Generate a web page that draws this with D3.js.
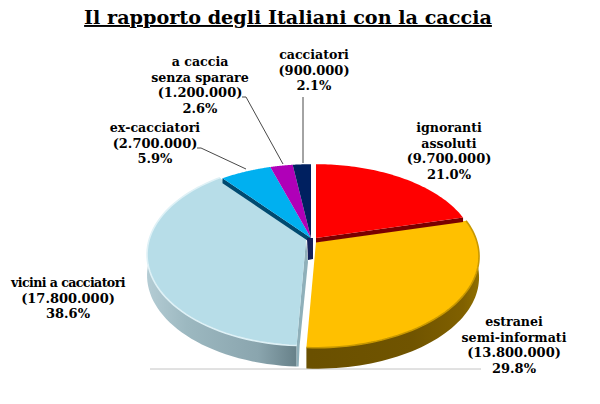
<!DOCTYPE html>
<html><head><meta charset="utf-8">
<script src="https://cdn.jsdelivr.net/npm/d3@7"></script>
<style>html,body{margin:0;background:#fff}svg{display:block}text{font-family:"DejaVu Serif",serif;font-weight:bold;fill:#000}</style>
</head><body><div id="c"></div>
<script>
const title = "Il rapporto degli Italiani con la caccia";
const categories = ["ignoranti assoluti","estranei semi-informati","vicini a cacciatori","ex-cacciatori","a caccia senza sparare","cacciatori"];
const people = ["9.700.000","13.800.000","17.800.000","2.700.000","1.200.000","900.000"];
const percents = [21.0,29.8,38.6,5.9,2.6,2.1];
const colors = ["#ff0000","#ffc000","#b7dde8","#00b0f0","#b000b8","#002060"];
const cutColors = ["#7a0000","#6f5400","#8fb0ba","#004a70","#560060","#001030"];
const rimColors = [null,"#c89800","#dff1f6",null,null,null];
const labelLines = [["ignoranti","assoluti"],["estranei","semi-informati"],["vicini a cacciatori"],["ex-cacciatori"],["a caccia","senza sparare"],["cacciatori"]];
const labelAnchors = [[449,128],[514,322],[68,283],[155,128],[200,62],[314,55]];
const apexes = [[316,238],[316,242],[306,240],[311,238],[311,238],[311,238]];
const scaleX = [0.98,1,0.975,1,1,1];
const scaleY = [0.96,1,1,0.96,0.96,0.96];
const leaders = [null,null,null,[[197,148],[201,148],[246,169]],[[242,97],[246,97],[283,164]],[[303,97],[303,163]]];

const W=600,H=404;
const svg=d3.select("#c").append("svg").attr("width",W).attr("height",H);
const defs=svg.append("defs");
const pct=d3.format(".1f");
const arcs=d3.pie().sort(null).value(d=>d)(percents);

// perspective projection of the pie's disc
const K=0.158, SX=161, SY=89, DEPTH=21;
const proj=(t,i)=>{const u=Math.sin(t),v=Math.cos(t),w=1+K*v,o=apexes[i];
  return [o[0]+scaleX[i]*SX*u/w,o[1]-scaleY[i]*SY*v/w];};
const samples=(a,b)=>d3.range(0,61).map(i=>a+(b-a)*i/60);
const line=d3.line();

function grad(id,x1,x2,stops){
  const g=defs.append("linearGradient").attr("id",id).attr("gradientUnits","userSpaceOnUse")
    .attr("x1",x1).attr("x2",x2).attr("y1",0).attr("y2",0);
  stops.forEach(s=>g.append("stop").attr("offset",s[0]).attr("stop-color",s[1]));
}
grad("sideO",310,480,[[0,"#6a5000"],[0.6,"#705400"],[0.9,"#806000"],[1,"#907000"]]);
grad("sideB",147,306,[[0,"#b4ccd4"],[0.25,"#9cb8c0"],[0.7,"#8aa5ae"],[1,"#5f7880"]]);

// baseline under the pie
svg.append("line").attr("x1",150).attr("x2",481).attr("y1",369).attr("y2",369).attr("stroke","#c4c4c4").attr("stroke-width",1);

// side walls
[1,2].forEach(i=>{
  const a=arcs[i];
  const upper=samples(a.startAngle,a.endAngle).map(t=>proj(t,i));
  const lower=upper.map(p=>[p[0],p[1]+DEPTH]).reverse();
  svg.append("path").attr("d",line(upper.concat(lower))+"Z").attr("fill",i===1?"url(#sideO)":"url(#sideB)");
});
// light slice's cut face
{const o=apexes[2],e=proj(arcs[2].startAngle,2);
 svg.append("path").attr("d",line([o,[o[0]+2,o[1]+22],[e[0]+3,e[1]],[e[0]+2,e[1]+DEPTH],[e[0],e[1]+DEPTH],e])+"Z").attr("fill","#8fb0ba");}

function face(i){
  const a=arcs[i],pts=samples(a.startAngle,a.endAngle).map(t=>proj(t,i));
  svg.append("path").attr("d",line([apexes[i]].concat(pts))+"Z").attr("fill",colors[i]);
  if(rimColors[i]) svg.append("path").attr("d",line(pts)).attr("fill","none").attr("stroke",rimColors[i]).attr("stroke-width",1.6);
}
function cut(i,k,d){
  const o=apexes[i],e=proj(arcs[i][k],i);
  svg.append("path").attr("d",line([o,e,[e[0],e[1]+d],[o[0],o[1]+d]])+"Z").attr("fill",cutColors[i]);
}
face(2);
cut(3,"startAngle",5);
// central dark edge of the back slices
svg.append("path").attr("d",line([[307,238],[313,238],[313,259],[308,260]])+"Z").attr("fill","#14205a");
face(3);face(4);face(5);
face(1);
cut(0,"endAngle",4.5);
face(0);

// leaders
leaders.forEach(l=>{ if(l) svg.append("path").attr("d",line(l)).attr("fill","none").attr("stroke","#333").attr("stroke-width",0.9); });

// labels
categories.forEach((c,i)=>{
  const n=labelLines[i].length;
  const lines=labelLines[i].concat(["("+people[i]+")",pct(percents[i])+"%"]);
  const t=svg.append("text").attr("text-anchor","middle");
  lines.forEach((s,j)=>t.append("tspan").attr("x",labelAnchors[i][0]).attr("y",labelAnchors[i][1]+4+j*15.6)
     .attr("font-size",j<n?12.6:13)
     .attr("letter-spacing",i===2&&j<n?-0.6:null).text(s));
});

// title
svg.append("text").attr("x",288).attr("y",24).attr("text-anchor","middle").attr("font-size",19.2)
  .attr("text-decoration","underline").text(title);
</script></body></html>
